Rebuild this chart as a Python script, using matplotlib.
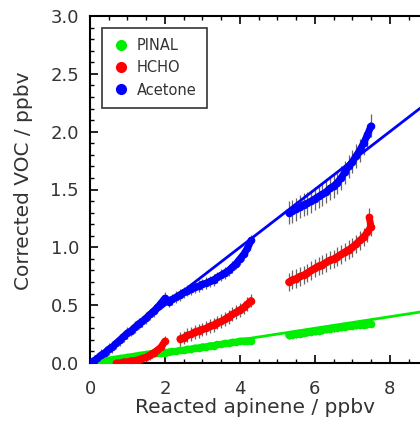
import matplotlib
matplotlib.use('Agg')
import matplotlib.pyplot as plt
from matplotlib.ticker import MultipleLocator, FormatStrFormatter

plt.rcParams['font.family'] = ['DejaVu Sans']

# Acetone (blue) - two pieces of the experiment
blue_x1 = [0.0, 0.1, 0.2, 0.3, 0.4, 0.5, 0.6, 0.7, 0.8, 0.9, 1.0, 1.1, 1.2, 1.3, 1.4, 1.5, 1.6, 1.7, 1.8, 1.9, 2.0,
           2.1, 2.2, 2.3, 2.4, 2.5, 2.6, 2.7, 2.8, 2.9, 3.0, 3.1, 3.2, 3.3, 3.4, 3.5, 3.6, 3.7, 3.8, 3.9, 4.0, 4.1, 4.2, 4.3]
blue_y1 = [0.00, 0.02, 0.04, 0.07, 0.09, 0.12, 0.14, 0.17, 0.20, 0.23, 0.26, 0.28, 0.31, 0.34, 0.36, 0.39, 0.42, 0.45, 0.48, 0.52, 0.56,
           0.53, 0.55, 0.57, 0.59, 0.61, 0.625, 0.64, 0.655, 0.665, 0.68, 0.69, 0.705, 0.72, 0.74, 0.76, 0.78, 0.80, 0.83, 0.86, 0.90, 0.94, 0.99, 1.06]
blue_x2 = [5.3, 5.4, 5.5, 5.6, 5.7, 5.8, 5.9, 6.0, 6.1, 6.2, 6.3, 6.4, 6.5, 6.6, 6.7, 6.8, 6.9, 7.0, 7.1, 7.2, 7.3, 7.4, 7.5]
blue_y2 = [1.30, 1.31, 1.33, 1.35, 1.37, 1.38, 1.40, 1.42, 1.44, 1.46, 1.48, 1.51, 1.53, 1.56, 1.60, 1.65, 1.70, 1.74, 1.79, 1.84, 1.90, 1.97, 2.05]

# HCHO (red)
red_x1 = [0.7, 0.8, 0.9, 1.0, 1.1, 1.2, 1.3, 1.4, 1.5, 1.6, 1.7, 1.8, 1.9, 2.0]
red_y1 = [0.00, 0.00, 0.01, 0.01, 0.02, 0.02, 0.03, 0.04, 0.05, 0.07, 0.09, 0.11, 0.14, 0.19]
red_x2 = [2.4, 2.5, 2.6, 2.7, 2.8, 2.9, 3.0, 3.1, 3.2, 3.3, 3.4, 3.5, 3.6, 3.7, 3.8, 3.9, 4.0, 4.1, 4.2, 4.3]
red_y2 = [0.21, 0.22, 0.24, 0.25, 0.27, 0.28, 0.29, 0.30, 0.32, 0.33, 0.35, 0.36, 0.38, 0.40, 0.42, 0.44, 0.46, 0.48, 0.51, 0.54]
red_x3 = [5.3, 5.4, 5.5, 5.6, 5.7, 5.8, 5.9, 6.0, 6.1, 6.2, 6.3, 6.4, 6.5, 6.6, 6.7, 6.8, 6.9, 7.0, 7.1, 7.2, 7.3, 7.4, 7.5, 7.45]
red_y3 = [0.70, 0.72, 0.73, 0.75, 0.76, 0.78, 0.80, 0.82, 0.84, 0.85, 0.87, 0.89, 0.90, 0.92, 0.94, 0.96, 0.98, 1.00, 1.03, 1.06, 1.09, 1.13, 1.18, 1.26]

# PINAL (green)
green_x1 = [0.2, 0.3, 0.4, 0.5, 0.6, 0.7, 0.8, 0.9, 1.0, 1.1, 1.2, 1.3, 1.4, 1.5, 1.6, 1.7, 1.8, 1.9, 2.0,
            2.1, 2.2, 2.3, 2.4, 2.5, 2.6, 2.7, 2.8, 2.9, 3.0, 3.1, 3.2, 3.3, 3.4, 3.5, 3.6, 3.7, 3.8, 3.9, 4.0, 4.1, 4.2, 4.3]
green_y1 = [0.01, 0.015, 0.02, 0.025, 0.03, 0.035, 0.04, 0.045, 0.05, 0.055, 0.06, 0.065, 0.07, 0.075, 0.08, 0.085, 0.09, 0.09, 0.09,
            0.095, 0.10, 0.10, 0.11, 0.11, 0.12, 0.12, 0.13, 0.13, 0.14, 0.14, 0.15, 0.15, 0.16, 0.16, 0.17, 0.17, 0.18, 0.18, 0.19, 0.19, 0.19, 0.19]
green_x2 = [5.3, 5.4, 5.5, 5.6, 5.7, 5.8, 5.9, 6.0, 6.1, 6.2, 6.3, 6.4, 6.5, 6.6, 6.7, 6.8, 6.9, 7.0, 7.1, 7.2, 7.3, 7.4, 7.5]
green_y2 = [0.24, 0.245, 0.25, 0.255, 0.26, 0.265, 0.27, 0.275, 0.28, 0.285, 0.29, 0.295, 0.30, 0.305, 0.31, 0.315, 0.32, 0.32, 0.325, 0.33, 0.33, 0.335, 0.34]

# uncertainty per piece
blue_err = [0.05, 0.10]
red_err = [0.04, 0.06, 0.08]
green_err = [0.02, 0.03]

# linear fits (intercept, slope)
blue_fit = (0.0, 0.25)
green_fit = (0.0, 0.05)

fig = plt.figure(figsize=(4.2, 4.25), dpi=100)
# axes run past the right edge of the picture, as in the original crop
ax = fig.add_axes([90/420, 62/425, 356/420, 347/425])

def piece(x, y, err, color):
    ax.errorbar(x, y, yerr=err, fmt='none', ecolor='#666666', elinewidth=0.9, zorder=2)
    ax.plot(x, y, '-', color=color, lw=5, zorder=3, solid_capstyle='round')
    ax.plot(x, y, 'o', color=color, ms=5.5, mec='none', zorder=3)

piece(green_x1, green_y1, green_err[0], '#00ee00')
piece(green_x2, green_y2, green_err[1], '#00ee00')
piece(red_x1, red_y1, red_err[0], '#ff0000')
piece(red_x2, red_y2, red_err[1], '#ff0000')
piece(red_x3, red_y3, red_err[2], '#ff0000')
piece(blue_x1, blue_y1, blue_err[0], '#0000ff')
piece(blue_x2, blue_y2, blue_err[1], '#0000ff')

ax.axline((0, blue_fit[0]), slope=blue_fit[1], color='#0000ff', lw=2.0, zorder=4)
ax.axline((0, green_fit[0]), slope=green_fit[1], color='#00ee00', lw=2.0, zorder=1)

# legend entries
ax.plot([], [], 'o', color='#00ee00', ms=7, label='PINAL')
ax.plot([], [], 'o', color='#ff0000', ms=7, label='HCHO')
ax.plot([], [], 'o', color='#0000ff', ms=7, label='Acetone')
leg = ax.legend(loc='upper left', bbox_to_anchor=(0.034, 0.966), borderaxespad=0, fontsize=10.5,
                frameon=True, fancybox=False, edgecolor='black', handletextpad=0.5, borderpad=0.7,
                labelspacing=0.5, handlelength=1.2)
leg.get_frame().set_linewidth(1.2)
for t in leg.get_texts():
    t.set_color('#333333')

ax.set_xlim(0, 9.5)
ax.set_ylim(0, 3)
ax.xaxis.set_major_locator(MultipleLocator(2))
ax.xaxis.set_minor_locator(MultipleLocator(0.5))
ax.yaxis.set_major_locator(MultipleLocator(0.5))
ax.yaxis.set_minor_locator(MultipleLocator(0.1))
ax.yaxis.set_major_formatter(FormatStrFormatter('%.1f'))
ax.tick_params(which='both', direction='in', top=True, right=True, labelsize=13, labelcolor='#333333')
ax.tick_params(axis='x', which='both', pad=12)
ax.tick_params(axis='y', which='both', pad=8)
ax.tick_params(which='major', length=6, width=1.2)
ax.tick_params(which='minor', length=3, width=1.0)
for s in ax.spines.values():
    s.set_linewidth(1.5)

ax.set_xlabel('Reacted apinene / ppbv', fontsize=14.5, color='#333333')
ax.set_ylabel('Corrected VOC / ppbv', fontsize=14.5, color='#333333')
ax.xaxis.set_label_coords(0.463, -0.1)
ax.yaxis.set_label_coords(-0.16, 0.524)

fig.savefig('out.png', dpi=100)
